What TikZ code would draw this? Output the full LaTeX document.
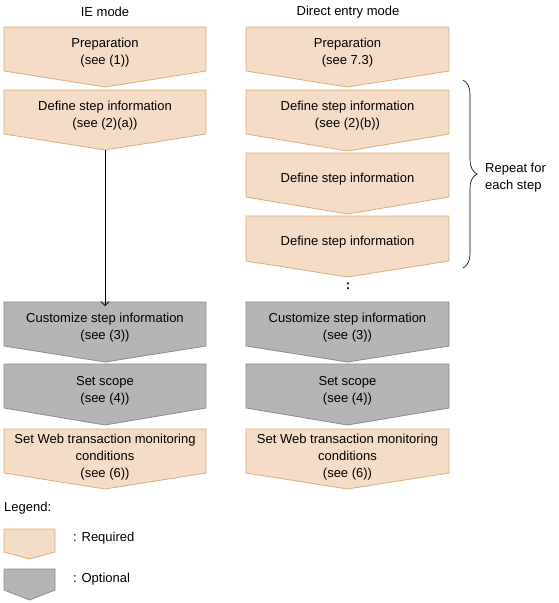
\documentclass[tikz,border=0pt]{standalone}
\usepackage{fontspec}
\setmainfont{Liberation Sans}
\usetikzlibrary{decorations.pathreplacing,arrows.meta}
\definecolor{reqfill}{RGB}{245,220,198}
\definecolor{reqline}{RGB}{222,172,122}
\definecolor{optfill}{RGB}{181,181,181}
\definecolor{optline}{RGB}{140,140,140}
\newcommand\chevshape[6]{%
  \path[#1] (#2,#4) -- (#3,#4) -- (#3,#5) -- ({(#2+#3)/2},#6) -- (#2,#5) -- cycle;}
\begin{document}
\begin{tikzpicture}[x=1pt,y=-1pt,
  req/.style={fill=reqfill,draw=reqline,line width=0.8pt},
  opt/.style={fill=optfill,draw=optline,line width=0.8pt},
  lbl/.style={font=\fontsize{13}{17}\selectfont,align=center,inner sep=0pt},
  side/.style={font=\fontsize{13}{17}\selectfont,align=left,inner sep=0pt,anchor=west},
  conn/.style={draw=black,line width=0.6pt,-{Straight Barb[length=4pt,width=8pt]}}]
\useasboundingbox (0,0) rectangle (558,603);
% titles
\node[lbl] (t1) at (105,12) {IE mode};
\node[lbl] (t2) at (348,12) {Direct entry mode};
% left column
\chevshape{req}{4}{206}{27}{71}{87}
\node[lbl] (lprep) at (105,52.5) {Preparation\\(see (1))};
\chevshape{req}{4}{206}{90}{134}{150}
\node[lbl] (ldef) at (105,115.5) {Define step information\\(see (2)(a))};
\coordinate (ltip) at (105,150);
\chevshape{opt}{4}{206}{302}{346}{362}
\coordinate (lcustop) at (105,302);
\node[lbl] (lcus) at (105,327.5) {Customize step information\\(see (3))};
\chevshape{opt}{4}{206}{364}{408}{425}
\node[lbl] (lscope) at (105,390.5) {Set scope\\(see (4))};
\chevshape{req}{4}{206}{429}{473}{489}
\node[lbl] (lweb) at (105,457) {Set Web transaction monitoring\\conditions\\(see (6))};
\draw[conn] (ltip) -- ([yshift=-4pt]lcustop);
% right column
\chevshape{req}{246}{449}{27}{71}{87}
\node[lbl] (rprep) at (347.5,52.5) {Preparation\\(see 7.3)};
\chevshape{req}{246}{449}{90}{134}{151}
\node[lbl] (rdef1) at (347.5,115.5) {Define step information\\(see (2)(b))};
\chevshape{req}{246}{449}{153}{197}{214}
\node[lbl] (rdef2) at (347.5,179) {Define step information};
\chevshape{req}{246}{449}{216}{261}{277}
\node[lbl] (rdef3) at (347.5,242) {Define step information};
\node[lbl] (dots) at (348,286) {\textbf{:}};
\chevshape{opt}{246}{449}{302}{346}{362}
\node[lbl] (rcus) at (347.5,327.5) {Customize step information\\(see (3))};
\chevshape{opt}{246}{449}{364}{408}{425}
\node[lbl] (rscope) at (347.5,390.5) {Set scope\\(see (4))};
\chevshape{req}{246}{449}{429}{473}{489}
\node[lbl] (rweb) at (347.5,457) {Set Web transaction monitoring\\conditions\\(see (6))};
% brace
\coordinate (btop) at (463,80);
\coordinate (bbot) at (463,268);
\draw[line width=0.6pt,decorate,decoration={brace,amplitude=14pt}] (btop) -- (bbot);
\node[side] (rep) at (485,177.5) {Repeat for\\each step};
% legend
\node[side] (leg) at (4,508) {Legend:};
\chevshape{req}{4}{55}{529}{552}{559}
\node[side] (lreq) at (73,538) {: Required};
\chevshape{opt}{4}{55}{569}{590}{600}
\node[side] (lopt) at (73,579) {: Optional};
\end{tikzpicture}
\end{document}
